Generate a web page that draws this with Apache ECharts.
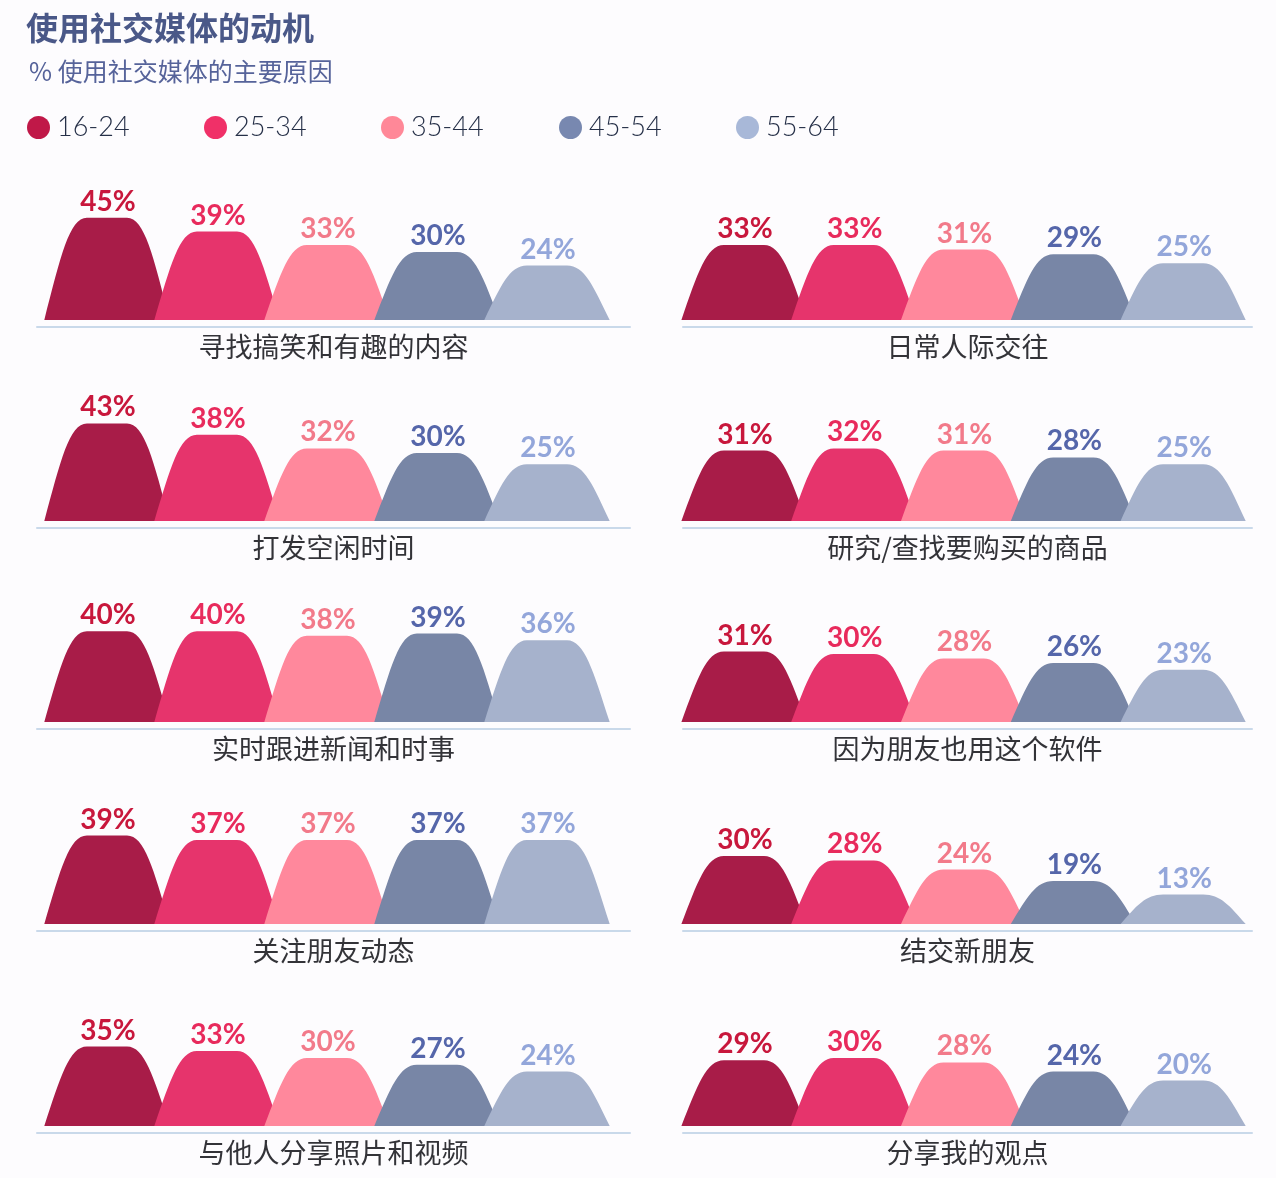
<!DOCTYPE html>
<html>
<head>
<meta charset="utf-8">
<title>使用社交媒体的动机</title>
<script src="https://cdn.jsdelivr.net/npm/echarts@6/dist/echarts.min.js"></script>
<style>
    html, body { margin: 0; padding: 0; background: #fdfcfe; }
    #motivosChart { width: 1276px; height: 1178px; }
</style>
</head>
<body>
<div id="motivosChart"></div>
<script>
// Datos
var ageGroups = ['16-24', '25-34', '35-44', '45-54', '55-64'];

// orden: fila por fila, izquierda y luego derecha
var reasons = [
    '寻找搞笑和有趣的内容', '日常人际交往',
    '打发空闲时间', '研究/查找要购买的商品',
    '实时跟进新闻和时事', '因为朋友也用这个软件',
    '关注朋友动态', '结交新朋友',
    '与他人分享照片和视频', '分享我的观点'
];

var age16_24 = [45, 33, 43, 31, 40, 31, 39, 30, 35, 29];
var age25_34 = [39, 33, 38, 32, 40, 30, 37, 28, 33, 30];
var age35_44 = [33, 31, 32, 31, 38, 28, 37, 24, 30, 28];
var age45_54 = [30, 29, 30, 28, 39, 26, 37, 19, 27, 24];
var age55_64 = [24, 25, 25, 25, 36, 23, 37, 13, 24, 20];

var ageValues = [age16_24, age25_34, age35_44, age45_54, age55_64];

// colores
var fillColors = ['#a81c48', '#e6346c', '#ff889c', '#7886a6', '#a6b2cc'];
var labelColors = ['#c8173c', '#e82a5c', '#f27a8a', '#5566aa', '#93a6da'];
var legendColors = ['#c01848', '#f03068', '#ff8898', '#7888b0', '#a8b8d8'];

document.addEventListener('DOMContentLoaded', function () {
    var chart = echarts.init(document.getElementById('motivosChart'));

    // layout de los paneles
    var baselines = [320, 521, 722, 924, 1126];
    var columns = [
        { left: 37, width: 593, min: -0.636, max: 4.755 },
        { left: 683, width: 569, min: -0.555, max: 4.627 }
    ];
    var plotHeight = 113.5;   // 50% -> 113.5 px
    var legendLeft = [26, 203, 380, 558, 735];

    // forma de "montaña": puntos en unidades (ancho medio, alto)
    function moundPath(cx, yBase, yTop, hw) {
        var h = yBase - yTop;
        function px(u) { return (cx + u * hw).toFixed(1); }
        function py(v) { return (yBase - v * h).toFixed(1); }
        return 'M' + px(-1) + ',' + py(0) +
            ' C' + px(-0.74) + ',' + py(0.62) + ' ' + px(-0.6) + ',' + py(1) + ' ' + px(-0.32) + ',' + py(1) +
            ' L' + px(0.32) + ',' + py(1) +
            ' C' + px(0.6) + ',' + py(1) + ' ' + px(0.74) + ',' + py(0.62) + ' ' + px(1) + ',' + py(0) +
            ' Z';
    }

    function renderMound(params, api) {
        var idx = api.value(0);
        var val = api.value(1);
        var top = api.coord([idx, val]);
        var base = api.coord([idx, 0]);
        var hw = api.size([1, 0])[0] * 0.57;
        var ageIdx = params.seriesIndex % 5;
        return {
            type: 'group',
            children: [
                {
                    type: 'path',
                    shape: { pathData: moundPath(top[0], base[1], top[1], hw) },
                    style: { fill: api.visual('color'), blend: 'multiply' }
                },
                {
                    type: 'text',
                    style: {
                        text: val + '%',
                        x: top[0] + 1,
                        y: top[1] - 2,
                        align: 'center',
                        verticalAlign: 'bottom',
                        fill: labelColors[ageIdx],
                        font: 'bold 28px Lato, "Noto Sans", sans-serif'
                    }
                }
            ]
        };
    }

    var grids = [], xAxes = [], yAxes = [], series = [];

    reasons.forEach(function (reason, p) {
        var row = Math.floor(p / 2);
        var col = columns[p % 2];
        grids.push({
            left: col.left,
            width: col.width,
            top: baselines[row] - plotHeight,
            height: plotHeight
        });
        xAxes.push({
            gridIndex: p,
            type: 'value',
            min: col.min,
            max: col.max,
            offset: 7,
            axisLine: { show: true, onZero: false, lineStyle: { color: '#c9d9ea', width: 2 } },
            axisTick: { show: false },
            axisLabel: { show: false },
            splitLine: { show: false },
            name: reason,
            nameLocation: 'middle',
            nameGap: 6,
            nameTextStyle: {
                fontSize: 27,
                color: '#333338',
                fontFamily: '"Noto Sans CJK SC", sans-serif',
                verticalAlign: 'top'
            }
        });
        yAxes.push({
            gridIndex: p,
            type: 'value',
            min: 0,
            max: 50,
            show: false
        });
        ageGroups.forEach(function (age, a) {
            series.push({
                type: 'custom',
                name: age,
                xAxisIndex: p,
                yAxisIndex: p,
                itemStyle: { color: fillColors[a] },
                renderItem: renderMound,
                data: [[a, ageValues[a][p]]]
            });
        });
    });

    // una leyenda por grupo para fijar la posicion
    var legends = ageGroups.map(function (age, a) {
        return {
            left: legendLeft[a] - 4,
            top: 109,
            icon: 'circle',
            itemWidth: 23,
            itemHeight: 23,
            itemGap: 0,
            textStyle: {
                fontSize: 27,
                color: '#263048',
                fontFamily: 'Lato, "Noto Sans", sans-serif',
                fontWeight: 300,
                padding: [0, 0, 0, 2]
            },
            data: [{ name: age, itemStyle: { color: legendColors[a] } }]
        };
    });

    var options = {
        backgroundColor: '#fdfcfe',
        animation: false,
        title: [
            {
                text: '使用社交媒体的动机',
                left: 21,
                top: 7,
                textStyle: {
                    fontSize: 32,
                    fontWeight: 'bold',
                    color: '#4a5888',
                    fontFamily: '"Noto Sans CJK SC", sans-serif'
                }
            },
            {
                text: '% 使用社交媒体的主要原因',
                left: 24,
                top: 54,
                textStyle: {
                    fontSize: 25,
                    fontWeight: 'normal',
                    color: '#56639a',
                    fontFamily: '"Noto Sans CJK SC", sans-serif'
                }
            }
        ],
        legend: legends,
        grid: grids,
        xAxis: xAxes,
        yAxis: yAxes,
        series: series
    };

    chart.setOption(options);
});
</script>
</body>
</html>
